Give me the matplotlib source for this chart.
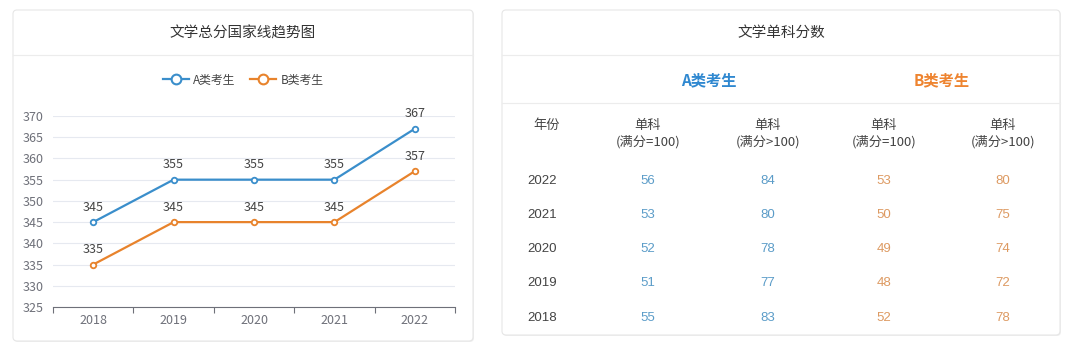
import matplotlib
matplotlib.use('AGG')
import matplotlib.pyplot as plt
from matplotlib.patches import FancyBboxPatch
from matplotlib.lines import Line2D

plt.rcParams['font.family'] = ['Noto Sans CJK SC', 'DejaVu Sans']

# data
years = ['2018', '2019', '2020', '2021', '2022']
score_a = [345, 355, 355, 355, 367]
score_b = [335, 345, 345, 345, 357]
series_names = ['A类考生', 'B类考生']

table_years = ['2022', '2021', '2020', '2019', '2018']
a_eq100 = [56, 53, 52, 51, 55]
a_gt100 = [84, 80, 78, 77, 83]
b_eq100 = [53, 50, 49, 48, 52]
b_gt100 = [80, 75, 74, 72, 78]
col_heads = ['单科\n(满分=100)', '单科\n(满分>100)', '单科\n(满分=100)', '单科\n(满分>100)']

BLUE = '#3a8ecb'
ORANGE = '#e8832c'
BLUE_T = '#5b9cc8'
ORANGE_T = '#dd9a62'
GRAY = '#6e7079'
NUMFONT = ['Liberation Sans', 'Noto Sans CJK SC']

W, H = 1080, 356
fig = plt.figure(figsize=(W / 100, H / 100), dpi=100)
fig.patch.set_facecolor('white')

# background axes in pixel coordinates
bg = fig.add_axes([0, 0, 1, 1])
bg.set_xlim(0, W)
bg.set_ylim(H, 0)
bg.axis('off')


def card(x0, y0, x1, y1):
    shadow = FancyBboxPatch((x0 + 1, y0 + 1), x1 - x0, y1 - y0,
                            boxstyle='round,pad=0,rounding_size=4',
                            fc='#f0f0f0', ec='none', zorder=0)
    bg.add_patch(shadow)
    box = FancyBboxPatch((x0, y0), x1 - x0, y1 - y0,
                         boxstyle='round,pad=0,rounding_size=4',
                         fc='white', ec='#e6e6e6', lw=0.8, zorder=1)
    bg.add_patch(box)
    bg.plot([x0, x1], [55, 55], color='#ececec', lw=0.8, zorder=2)


card(13, 10, 473, 341)
card(502, 10, 1060, 335)

bg.text(243, 33, '文学总分国家线趋势图', ha='center', va='center', fontsize=10.5, color='#333333', zorder=3)
bg.text(781, 33, '文学单科分数', ha='center', va='center', fontsize=10.5, color='#333333', zorder=3)

# table
bg.plot([502, 1060], [103, 103], color='#ececec', lw=0.8, zorder=2)
bg.text(709, 80, series_names[0], ha='center', va='center', fontsize=11,
        fontweight='bold', color='#2f88d0', zorder=3)
bg.text(942, 80, series_names[1], ha='center', va='center', fontsize=11,
        fontweight='bold', color='#ee8430', zorder=3)
col_x = [648, 768, 884, 1003]
bg.text(547, 125, '年份', ha='center', va='center', fontsize=9.5, color='#444444', zorder=3)
for cx, head in zip(col_x, col_heads):
    bg.text(cx, 134, head, ha='center', va='center', fontsize=9.5, color='#444444',
            linespacing=1.25, zorder=3)
row_y = [181, 215, 249, 283, 318]
cols = [(a_eq100, BLUE_T), (a_gt100, BLUE_T), (b_eq100, ORANGE_T), (b_gt100, ORANGE_T)]
for i, (yr, ry) in enumerate(zip(table_years, row_y)):
    bg.text(542, ry, yr, ha='center', va='center', fontsize=9.5, color='#444444',
            family=NUMFONT, zorder=3)
    for cx, (vals, c) in zip(col_x, cols):
        bg.text(cx, ry, str(vals[i]), ha='center', va='center', fontsize=9.5, color=c,
                family=NUMFONT, zorder=3)

# line chart
ax = fig.add_axes([53 / W, (H - 307) / H, (455 - 53) / W, (307 - 116) / H])
ax.patch.set_alpha(0)
xs = list(range(len(years)))
for vals, c in [(score_a, BLUE), (score_b, ORANGE)]:
    ax.plot(xs, vals, color=c, lw=1.6, marker='o', ms=4, mfc='white', mec=c, mew=1.3, zorder=3)
    for x, v in zip(xs, vals):
        ax.annotate(str(v), (x, v), xytext=(0, 6), textcoords='offset points',
                    ha='center', va='bottom', fontsize=9, color='#444444')
ax.set_xlim(-0.5, len(years) - 0.5)
ax.set_ylim(325, 370)
ax.set_yticks(range(325, 371, 5))
ax.yaxis.grid(True, color='#e6e9f0', lw=0.8)
ax.set_axisbelow(True)
ax.tick_params(axis='y', length=0, labelsize=9, labelcolor=GRAY, pad=7)
ax.set_xticks([x - 0.5 for x in range(len(years) + 1)])
ax.set_xticklabels([])
ax.set_xticks(xs, minor=True)
ax.set_xticklabels(years, minor=True)
ax.tick_params(axis='x', which='major', length=4, color=GRAY, width=0.8)
ax.tick_params(axis='x', which='minor', length=0, labelsize=9, labelcolor=GRAY, pad=5)
for s in ['top', 'right', 'left']:
    ax.spines[s].set_visible(False)
ax.spines['bottom'].set_color(GRAY)
ax.spines['bottom'].set_linewidth(0.8)

handles = [Line2D([], [], color=BLUE, lw=1.6, marker='o', ms=7, mfc='white', mec=BLUE, mew=1.5),
           Line2D([], [], color=ORANGE, lw=1.6, marker='o', ms=7, mfc='white', mec=ORANGE, mew=1.5)]
leg = fig.legend(handles, series_names, loc='center', bbox_to_anchor=(243 / W, 1 - 80 / H),
                 ncol=2, frameon=False, fontsize=8.5, handlelength=2.2, handletextpad=0.4,
                 columnspacing=1.2)
for t in leg.get_texts():
    t.set_color('#444444')

fig.savefig('out.png', dpi=100)
